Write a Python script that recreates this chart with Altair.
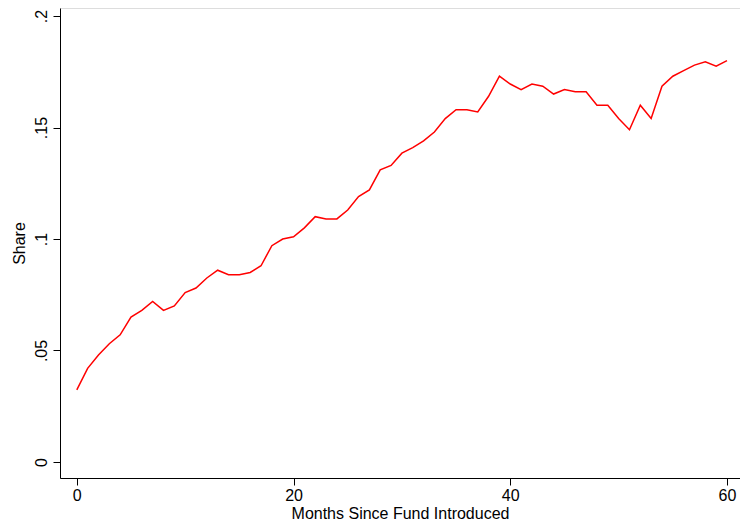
import altair as alt
import pandas as pd

months = list(range(61))
share = [
    0.0323, 0.042, 0.048, 0.053, 0.057, 0.065, 0.068, 0.072, 0.068, 0.070,
    0.076, 0.078, 0.0825, 0.086, 0.084, 0.084, 0.085, 0.088, 0.097, 0.100,
    0.101, 0.105, 0.110, 0.109, 0.109, 0.113, 0.119, 0.122, 0.131, 0.133,
    0.1385, 0.141, 0.144, 0.148, 0.154, 0.158, 0.158, 0.157, 0.164, 0.173,
    0.1695, 0.167, 0.1695, 0.1685, 0.165, 0.167, 0.166, 0.166, 0.160, 0.160,
    0.154, 0.149, 0.160, 0.154, 0.1685, 0.173, 0.1755, 0.178, 0.1795, 0.1775,
    0.180,
]

df = pd.DataFrame({"month": months, "share": share})

font = "Liberation Sans"

chart = alt.Chart(df).mark_line(color="#ff0000", strokeWidth=1.5, clip=True).encode(
    x=alt.X("month:Q", title="Months Since Fund Introduced",
            scale=alt.Scale(domain=[-1.55, 61.2], nice=False, zero=False),
            axis=alt.Axis(values=[0, 20, 40, 60], grid=False, tickSize=7,
                          labelFontSize=16, titleFontSize=16, labelPadding=2,
                          titlePadding=2, domainColor="black", tickColor="black",
                          labelColor="black", titleColor="black", titleFontWeight="normal")),
    y=alt.Y("share:Q", title="Share",
            scale=alt.Scale(domain=[-0.0072, 0.2036], nice=False, zero=False),
            axis=alt.Axis(values=[0, 0.05, 0.1, 0.15, 0.2], grid=False, tickSize=7,
                          labelAngle=270, labelAlign="center", labelBaseline="bottom",
                          labelExpr="datum.value == 0 ? '0' : substring(format(datum.value, '.2~f'), 1)",
                          labelFontSize=16, titleFontSize=16, labelPadding=4,
                          titlePadding=6, domainColor="black", tickColor="black",
                          labelColor="black", titleColor="black", titleFontWeight="normal")),
).properties(
    width=680, height=470,
    autosize=alt.AutoSizeParams(type="none"),
    padding={"left": 52, "top": 0, "right": 0, "bottom": 45},
).configure_view(stroke=None).configure(font=font)

chart.save("out.html", embed_options={"renderer": "svg", "actions": False})
